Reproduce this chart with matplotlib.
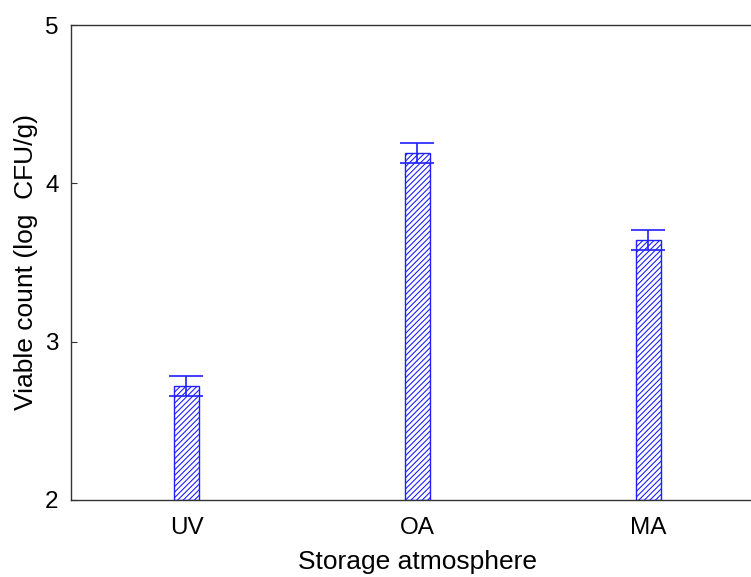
import matplotlib
matplotlib.use("Agg")
import matplotlib.pyplot as plt

plt.rcParams['font.family'] = ['Liberation Sans', 'DejaVu Sans']
plt.rcParams['hatch.color'] = '#2020ff'
plt.rcParams['hatch.linewidth'] = 0.8

categories = ["UV", "OA", "MA"]
means = [2.72, 4.19, 3.64]
errors = [0.063, 0.063, 0.063]
yticks = [2, 3, 4, 5]

fig = plt.figure(figsize=(7.51, 5.77), dpi=100)
W, H = 751, 577
left, right, top, bottom = 71, 764, 25, 500
ax = fig.add_axes([left / W, 1 - bottom / H, (right - left) / W, (bottom - top) / H])

x = list(range(len(categories)))
ax.bar(x, [m - 2 for m in means], bottom=2, width=0.104, color='white',
       edgecolor='#2020ff', hatch='//////', linewidth=1.0, zorder=2)
ax.errorbar(x, means, yerr=errors, fmt='none', ecolor='#2020ff',
            elinewidth=1.2, capsize=12, capthick=1.2, zorder=3)

ax.set_xlim(-0.5, 2.5)
ax.set_ylim(2, 5)
ax.set_yticks(yticks)
ax.set_yticklabels([str(t) for t in yticks])
ax.set_xticks(x)
ax.set_xticklabels(categories)
ax.tick_params(direction='in', length=4, labelsize=17.5, width=0.8, colors='#333333',
               labelcolor='black')
ax.tick_params(axis='y', pad=9)
ax.tick_params(axis='x', pad=12)
for s in ax.spines.values():
    s.set_color('#333333')
    s.set_linewidth(1.0)
ax.spines['right'].set_visible(False)
ax.set_xlabel("Storage atmosphere", fontsize=19, labelpad=8)
ax.set_ylabel("Viable count (log  CFU/g)", fontsize=19, labelpad=5)

fig.savefig("out.png", dpi=100)
